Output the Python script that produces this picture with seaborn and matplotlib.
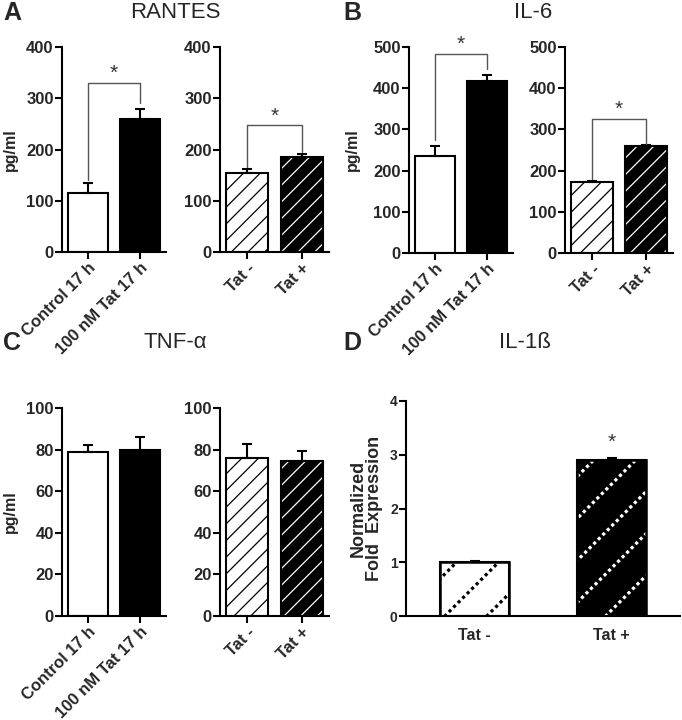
import matplotlib
matplotlib.use("Agg")
import matplotlib.pyplot as plt
import seaborn as sns
import pandas as pd
import numpy as np
from matplotlib.patches import Rectangle
from matplotlib.lines import Line2D
from matplotlib.transforms import IdentityTransform

sns.set_style("ticks")
plt.rcParams['font.family'] = ['Liberation Sans', 'DejaVu Sans']
plt.rcParams['font.weight'] = 'bold'
plt.rcParams['hatch.linewidth'] = 0.9

# ---------------- data ----------------
treat_cats = ["Control 17 h", "100 nM Tat 17 h"]
tat_cats = ["Tat -", "Tat +"]

rantes_treat = [115, 260]
rantes_treat_err = [20, 20]
rantes_tat = [155, 185]
rantes_tat_err = [6, 6]

il6_treat = [235, 417]
il6_treat_err = [25, 15]
il6_tat = [172, 260]
il6_tat_err = [2, 3]

tnf_treat = [79, 80]
tnf_treat_err = [3, 6]
tnf_tat = [76, 74.5]
tnf_tat_err = [6.5, 5]

il1b_tat = [1.0, 2.9]
il1b_tat_err = [0.02, 0.04]

# brackets: (bracket height, left drop, right drop)
rantes_treat_br = (330, 140, 290)
rantes_tat_br = (247, 165, 195)
il6_treat_br = (483, 275, 447)
il6_tat_br = (325, 180, 265)

W, H = 682, 720
fig = plt.figure(figsize=(W / 100, H / 100), dpi=100)


def axes_px(x0, x1, ytop, ybot):
    return fig.add_axes([x0 / W, 1 - ybot / H, (x1 - x0) / W, (ybot - ytop) / H])


def style_axes(ax, ymax, step, fs=12):
    ax.set_ylim(0, ymax)
    ticks = np.arange(0, ymax + step / 2, step)
    ax.set_yticks(ticks)
    ax.set_yticklabels([f"{t:g}" for t in ticks], fontweight="bold", fontsize=fs)
    for s in ["top", "right"]:
        ax.spines[s].set_visible(False)
    for s in ["left", "bottom"]:
        ax.spines[s].set_linewidth(1.5)
        ax.spines[s].set_color("black")
    ax.tick_params(axis="both", width=1.5, length=5, color="black", pad=1)
    ax.set_xlabel("")
    ax.set_ylabel("")


def draw_bars(ax, cats, vals, errs, hatched, width=0.77, hatch="//", rot=True):
    df = pd.DataFrame({"cat": cats, "val": vals})
    sns.barplot(data=df, x="cat", y="val", hue="cat", palette=["white", "black"],
                width=width, legend=False, ax=ax, edgecolor="black", linewidth=1.5,
                saturation=1)
    ax.set_xlim(-0.5, len(cats) - 0.5)
    patches = list(ax.patches)
    if hatched and hatch:
        for p, col in zip(patches, ["black", "white"]):
            p.set_hatch(hatch)
            p.set_edgecolor(col)
            p.set_linewidth(0)
            ax.add_patch(Rectangle((p.get_x(), p.get_y()), p.get_width(), p.get_height(),
                                   fill=False, edgecolor="black", linewidth=1.5,
                                   zorder=p.get_zorder() + 0.2))
    xs = [p.get_x() + p.get_width() / 2 for p in patches]
    ax.errorbar(xs, vals, yerr=[np.zeros(len(vals)), errs], fmt="none", ecolor="black",
                elinewidth=1.5, capsize=3.8, capthick=1.5, zorder=1)
    if rot:
        ax.set_xticks(range(len(cats)))
        ax.set_xticklabels(cats, rotation=45, ha="right", rotation_mode="anchor",
                           fontweight="bold", fontsize=12)
    return xs, patches


def dotted_hatch(ax, patches, colors, spacing=42, phase=0):
    """Sparse dotted diagonal hatch drawn in pixel space, clipped to each bar."""
    renderer = fig.canvas.get_renderer()
    for p, col in zip(patches, colors):
        bb = p.get_window_extent(renderer)
        x0, x1, y0, y1 = bb.x0, bb.x1, bb.y0, bb.y1
        h = y1 - y0
        starts = np.arange(x0 - h - spacing + phase, x1 + spacing, spacing)
        for s in starts:
            ln = Line2D([s, s + h + 10], [y0 - 5, y1 + 5], transform=IdentityTransform(),
                        color=col, lw=2.3, linestyle=(0, (1, 1)), dash_capstyle="butt",
                        zorder=p.get_zorder() + 0.1)
            ax.add_line(ln)
            ln.set_clip_box(None)
            ln.set_clip_path(p.get_path(), p.get_transform())
        ax.add_patch(Rectangle((p.get_x(), p.get_y()), p.get_width(), p.get_height(),
                               fill=False, edgecolor="black", linewidth=1.8,
                               zorder=p.get_zorder() + 0.2))


def bracket(ax, xs, br, fs=15):
    top, l, r = br
    ax.plot([xs[0], xs[0], xs[1], xs[1]], [l, top, top, r], color="#555555", lw=1.0,
            clip_on=False, zorder=3)
    ax.text((xs[0] + xs[1]) / 2, top, "*", ha="center", va="bottom", fontsize=fs,
            color="#333333", fontweight="normal")


def ylab(ax, x):
    ax.set_ylabel("pg/ml", fontweight="bold", fontsize=11.5)
    ax.yaxis.set_label_coords(x, 0.5)


# ---- Panel A ----
ax = axes_px(62, 166, 47, 252)
xs, _ = draw_bars(ax, treat_cats, rantes_treat, rantes_treat_err, False)
style_axes(ax, 400, 100)
ylab(ax, -0.42)
bracket(ax, xs, rantes_treat_br)

ax = axes_px(220, 329, 47, 252)
xs, _ = draw_bars(ax, tat_cats, rantes_tat, rantes_tat_err, True)
style_axes(ax, 400, 100)
bracket(ax, xs, rantes_tat_br)

# ---- Panel B ----
ax = axes_px(409, 513, 47, 253)
xs, _ = draw_bars(ax, treat_cats, il6_treat, il6_treat_err, False)
style_axes(ax, 500, 100)
ylab(ax, -0.47)
bracket(ax, xs, il6_treat_br)

ax = axes_px(565, 673, 47, 253)
xs, _ = draw_bars(ax, tat_cats, il6_tat, il6_tat_err, True)
style_axes(ax, 500, 100)
bracket(ax, xs, il6_tat_br)

# ---- Panel C ----
ax = axes_px(62, 166, 408, 616)
draw_bars(ax, treat_cats, tnf_treat, tnf_treat_err, False)
style_axes(ax, 100, 20)
ylab(ax, -0.42)

ax = axes_px(220, 329, 408, 616)
draw_bars(ax, tat_cats, tnf_tat, tnf_tat_err, True)
style_axes(ax, 100, 20)

# ---- Panel D ----
ax = axes_px(406, 680, 401, 616)
xs, pats = draw_bars(ax, tat_cats, il1b_tat, il1b_tat_err, True, width=0.51, hatch=None, rot=False)
style_axes(ax, 4, 1, fs=10)
ax.tick_params(axis="x", length=0, pad=9)
ax.set_xticks(range(2))
ax.set_xticklabels(tat_cats, fontweight="bold", fontsize=11.5)
ax.set_ylabel("Normalized\nFold  Expression", fontweight="bold", fontsize=13, linespacing=0.95)
ax.yaxis.set_label_coords(-0.084, 0.5)
dotted_hatch(ax, pats, ["black", "white"], spacing=42, phase=12)
for x, v, e in zip(xs[1:], il1b_tat[1:], il1b_tat_err[1:]):
    ax.text(x, v + e + 0.12, "*", ha="center", va="bottom", fontsize=15, color="#333333",
            fontweight="normal")

# ---- titles and letters ----
for tx, ty, t in [(175, 13, "RANTES"), (533, 13, "IL-6"), (175, 343, "TNF-α"), (525, 343, "IL-1ß")]:
    fig.text(tx / W, 1 - ty / H, t, ha="center", va="center", fontsize=16, fontweight="normal")
for lx, ly, letter in [(3, 13, "A"), (343, 13, "B"), (3, 343, "C"), (343, 343, "D")]:
    fig.text(lx / W, 1 - ly / H, letter, ha="left", va="center", fontsize=18, fontweight="bold")

fig.savefig("out.png", dpi=100)
